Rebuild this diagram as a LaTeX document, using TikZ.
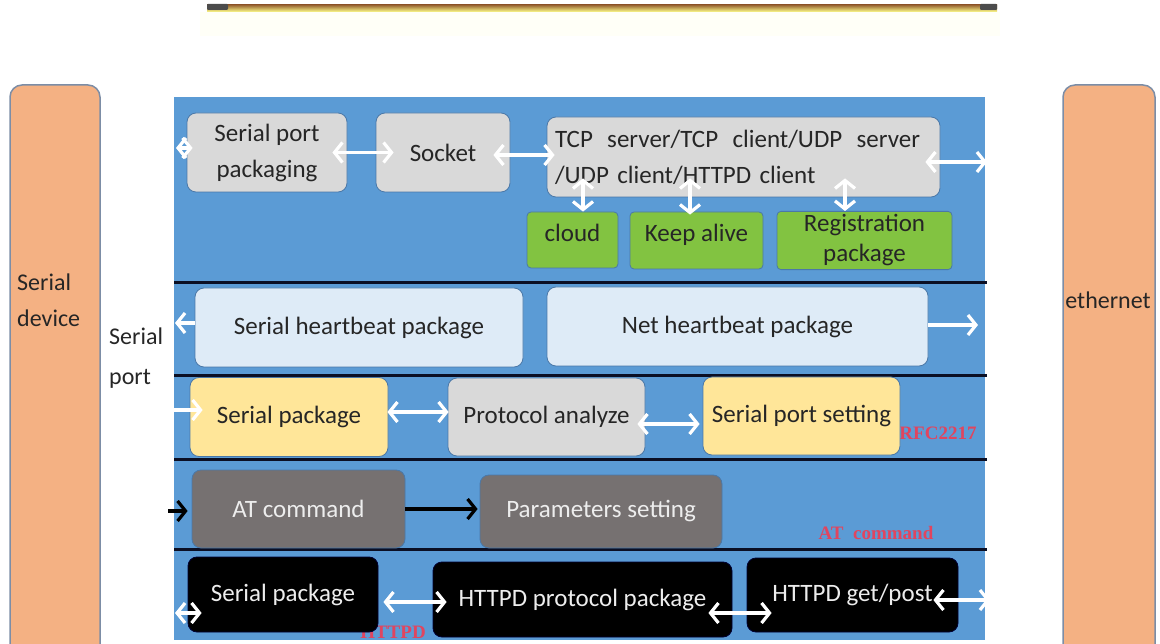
\documentclass[tikz,border=0pt]{standalone}
\usepackage{fontspec}
\setmainfont{Carlito}
\newfontfamily\redfont{Liberation Serif}
\usetikzlibrary{arrows.meta}
\definecolor{panelblue}{HTML}{5B9BD5}
\definecolor{sideorange}{HTML}{F4B183}
\definecolor{sideline}{HTML}{7C8DA6}
\definecolor{boxline}{HTML}{4A78A8}
\definecolor{boxgray}{HTML}{D9D9D9}
\definecolor{boxlight}{HTML}{DEEBF7}
\definecolor{boxyellow}{HTML}{FFE699}
\definecolor{boxgreen}{HTML}{82C341}
\definecolor{boxdark}{HTML}{767171}
\definecolor{txtdark}{HTML}{262626}
\definecolor{txtlight}{HTML}{EDEDED}
\definecolor{notered}{HTML}{E0455F}
\definecolor{sepline}{HTML}{0B0F24}
\begin{document}
\begin{tikzpicture}[x=1pt,y=-1pt,
    box/.style={draw=boxline, line width=0.8pt, rounded corners=9pt, align=center,
        text=txtdark, font=\fontsize{25}{36}\selectfont},
    graybox/.style={box, fill=boxgray},
    lightbox/.style={box, fill=boxlight},
    yellowbox/.style={box, fill=boxyellow},
    greenbox/.style={box, fill=boxgreen, rounded corners=4pt},
    darkbox/.style={box, fill=boxdark, text=txtlight},
    blackbox/.style={box, fill=black, draw=black!80!blue, text=txtlight},
    sidebox/.style={draw=sideline, line width=1.5pt, fill=sideorange, rounded corners=12pt},
    sidetxt/.style={align=left, text=txtdark, font=\fontsize{24}{36}\selectfont, inner sep=0pt},
    note/.style={text=notered, font=\redfont\bfseries\fontsize{19}{19}\selectfont, inner sep=0pt},
    wdbl/.style={draw=white, line width=3.2pt,
        {Straight Barb[length=8pt,width=20pt]}-{Straight Barb[length=8pt,width=20pt]}},
    wone/.style={draw=white, line width=3.2pt, -{Straight Barb[length=8pt,width=20pt]}},
    kone/.style={draw=black, line width=3.2pt, -{Straight Barb[length=8pt,width=20pt]}}]
    \useasboundingbox (0,0) rectangle (1160,644);
    % Barra in alto
    \fill[yellow!3] (200,12) rectangle (1000,36);
    \shade[top color=brown!80!black, bottom color=yellow!45] (207,5) rectangle (997,12);
    \fill[black!70, rounded corners=1pt] (207,4) rectangle (228,10);
    \fill[black!70, rounded corners=1pt] (980,4) rectangle (997,10);
    % Lati
    \node[sidebox, minimum width=90pt, minimum height=580pt] (dev) at (55,375) {};
    \node[sidebox, minimum width=92pt, minimum height=580pt] (eth) at (1109,375) {};
    \node[sidetxt, anchor=west] (devtxt) at (17,300) {Serial\\device};
    \node[sidetxt] (ethtxt) at (1108,300) {ethernet};
    \node[sidetxt, anchor=west, font=\fontsize{24}{40}\selectfont] (porttxt) at (109,358) {Serial\\port};
    % Pannello blu
    \fill[panelblue] (174,97) rectangle (985,640);
    \foreach \y in {283,376,459,549}
        \draw[sepline, line width=3pt] (174,\y) -- (987,\y);
    % Note rosse
    \node[note] (rfc) at (938,433) {RFC2217};
    \node[note] (atnote) at (876,533) {AT~ command};
    \node[note] (httpnote) at (393,632) {HTTPD};
    % Riga 1
    \node[graybox, minimum width=160pt, minimum height=79pt] (spp) at (267,152.5) {Serial port\\packaging};
    \node[graybox, minimum width=134pt, minimum height=79pt] (sock) at (443,152.5) {Socket};
    \node[graybox, text width=377pt, inner xsep=8pt, minimum height=80pt, align=left] (tcp) at (743.5,157)
        {TCP\hspace{6pt} server/TCP\hspace{6pt} client/UDP\hspace{6pt} server\\/UDP client/HTTPD client};
    \node[greenbox, minimum width=91pt, minimum height=56pt, text depth=14pt] (cloud) at (572.5,240) {cloud};
    \node[greenbox, minimum width=133pt, minimum height=57pt, text depth=16pt] (keep) at (696.5,240.5) {Keep alive};
    \node[greenbox, minimum width=175pt, minimum height=57pt, font=\fontsize{25}{30}\selectfont] (reg) at (864.5,240.5) {Registration\\package};
    % Riga 2
    \node[lightbox, minimum width=328pt, minimum height=79pt] (shb) at (359,327.5) {Serial heartbeat package};
    \node[lightbox, minimum width=381pt, minimum height=79pt] (nhb) at (737.5,326.5) {Net heartbeat package};
    % Riga 3
    \node[yellowbox, minimum width=198pt, minimum height=79pt] (sp1) at (289,417) {Serial package};
    \node[graybox, minimum width=197pt, minimum height=78pt] (pa) at (546.5,417) {Protocol analyze};
    \node[yellowbox, minimum width=197pt, minimum height=78pt] (sps) at (801.5,416) {Serial port setting};
    % Riga 4
    \node[darkbox, minimum width=213pt, minimum height=78pt] (at) at (298.5,509) {AT command};
    \node[darkbox, minimum width=242pt, minimum height=73pt] (par) at (601,511.5) {Parameters setting};
    % Riga 5
    \node[blackbox, minimum width=190pt, minimum height=75pt] (sp2) at (283,594.5) {Serial package};
    \node[blackbox, minimum width=299pt, minimum height=75pt] (hpp) at (582.5,599.5) {HTTPD protocol package};
    \node[blackbox, minimum width=211pt, minimum height=74pt] (hgp) at (852.5,595) {HTTPD get/post};
    % Estremi liberi
    \coordinate (l1) at (176,148);
    \coordinate (r1) at (987,162);
    \coordinate (l2) at (175,323);
    \coordinate (r2) at (978,325);
    \coordinate (l3) at (173,410);
    \coordinate (l4) at (168,511);
    \coordinate (l5) at (175,613);
    \coordinate (r5) at (990,600);
    % Frecce
    \draw[wdbl, shorten >=-6pt] (l1) -- (l1 -| spp.west);
    \draw[wdbl, shorten <=-15pt, shorten >=-18pt] (spp) -- (sock);
    \draw[wdbl] ([xshift=-17pt,yshift=-2.5pt]sock.east) -- ([xshift=8pt,yshift=2pt]tcp.west);
    \draw[wdbl] ([xshift=-15pt,yshift=-5pt]tcp.east) -- (r1);
    \draw[wdbl, shorten >=-19pt] ([xshift=10.5pt]cloud.north) -- ([xshift=10.5pt]cloud.north |- tcp.south);
    \draw[wdbl, shorten <=-3pt, shorten >=-19pt] ([xshift=-6.5pt]keep.north) -- ([xshift=-6.5pt]keep.north |- tcp.south);
    \draw[wdbl, shorten >=-19pt] ([xshift=-19.5pt]reg.north) -- ([xshift=-19.5pt]reg.north |- tcp.south);
    \draw[wone] ([yshift=4.5pt]shb.west) -- (l2);
    \draw[wone] ([yshift=1.5pt]nhb.east) -- (r2);
    \draw[wone, shorten >=-13pt] (l3) -- (l3 -| sp1.west);
    \draw[wdbl, shorten <=-1pt, shorten >=-1pt] ([yshift=5pt]sp1.east) -- ([yshift=5pt]pa.west);
    \draw[wdbl] ([xshift=-8pt,yshift=-7pt]pa.east) -- ([xshift=-3pt,yshift=-8pt]sps.west);
    \draw[kone, shorten >=4pt] (l4) -- (l4 -| at.west);
    \draw[kone, shorten >=2pt] (at.east) -- (at.east -| par.west);
    \draw[wdbl, shorten >=-14pt] (l5) -- (l5 -| sp2.west);
    \draw[wdbl] ([xshift=5pt,yshift=-7.5pt]sp2.east) -- ([xshift=14pt,yshift=-2.5pt]hpp.west);
    \draw[wdbl] ([xshift=-24pt,yshift=-13.5pt]hpp.east) -- ([xshift=25pt,yshift=-18pt]hgp.west);
    \draw[wdbl] ([xshift=-25pt,yshift=-5pt]hgp.east) -- (r5);
\end{tikzpicture}
\end{document}
